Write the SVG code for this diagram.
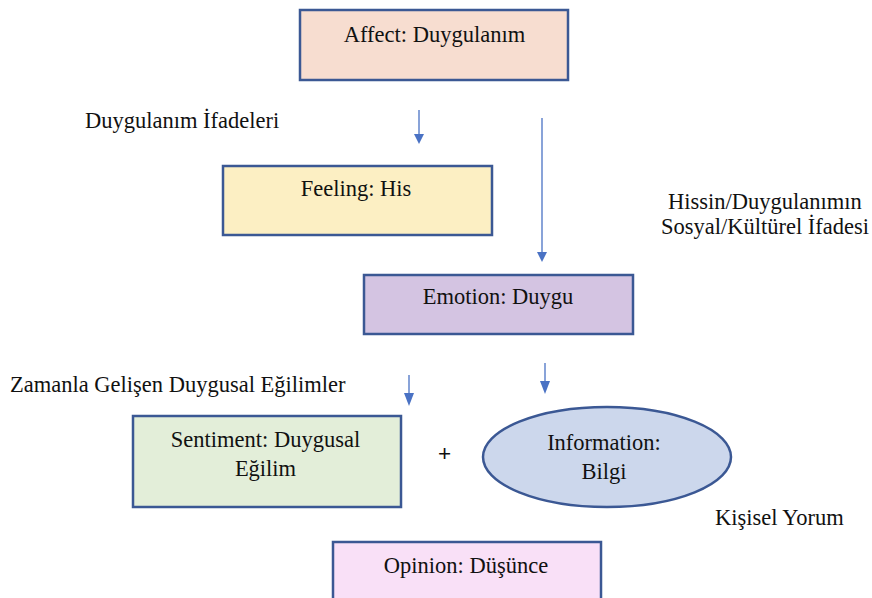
<svg xmlns="http://www.w3.org/2000/svg" width="872" height="598" viewBox="0 0 872 598">
  <style>
    .box { stroke: #3B5894; stroke-width: 2.5; }
    text { font-size: 22.5px; fill: #111; }
    .c { text-anchor: middle; }
    .wire { stroke: #4A72C4; stroke-width: 1.3; fill: none; }
    .tip { fill: #4A72C4; }
  </style>
  <rect width="872" height="598" fill="#ffffff"/>

  <g id="connectors">
    <line class="wire" x1="419" y1="110" x2="419" y2="134"/>
    <path class="tip" d="M414,134 L424,134 L419,144 Z"/>
    <line class="wire" x1="542" y1="118" x2="542" y2="252"/>
    <path class="tip" d="M537,252 L547,252 L542,262 Z"/>
    <line class="wire" x1="409" y1="375" x2="409" y2="396"/>
    <path class="tip" d="M404,393 L414,393 L409,406 Z"/>
    <line class="wire" x1="545" y1="363" x2="545" y2="384"/>
    <path class="tip" d="M540,381 L550,381 L545,394 Z"/>
  </g>

  <g font-family="'Liberation Serif', 'Times New Roman', serif">
    <g id="affect">
      <rect class="box" x="300" y="10" width="268" height="70" fill="#F7DDD0"/>
      <text class="c" x="434.5" y="42">Affect: Duygulanım</text>
    </g>

    <g id="feeling">
      <rect class="box" x="223" y="166" width="269" height="69" fill="#FCEFC3"/>
      <text class="c" x="356" y="196">Feeling: His</text>
    </g>

    <g id="emotion">
      <rect class="box" x="364" y="275" width="269" height="59" fill="#D4C4E2"/>
      <text class="c" x="498" y="304">Emotion: Duygu</text>
    </g>

    <g id="sentiment">
      <rect class="box" x="133" y="416" width="268" height="91" fill="#E3EED9"/>
      <text class="c" x="265.5" y="447">Sentiment: Duygusal</text>
      <text class="c" x="265.5" y="476">Eğilim</text>
    </g>

    <g id="information">
      <ellipse class="box" cx="607" cy="457" rx="124" ry="50" fill="#CCD7EC"/>
      <text class="c" x="604" y="450">Information:</text>
      <text class="c" x="604" y="479">Bilgi</text>
    </g>

    <g id="opinion">
      <rect class="box" x="333" y="542" width="268" height="70" fill="#F9E0F7"/>
      <text class="c" x="466" y="573">Opinion: Düşünce</text>
    </g>

    <g id="labels">
      <text x="85" y="128">Duygulanım İfadeleri</text>
      <text class="c" x="765" y="209">Hissin/Duygulanımın</text>
      <text class="c" x="765" y="234">Sosyal/Kültürel İfadesi</text>
      <text x="10" y="392">Zamanla Gelişen Duygusal Eğilimler</text>
      <text class="c" x="444.5" y="461" font-family="'Liberation Sans', Arial, sans-serif" font-size="27">+</text>
      <text x="715" y="525">Kişisel Yorum</text>
    </g>
  </g>
</svg>
